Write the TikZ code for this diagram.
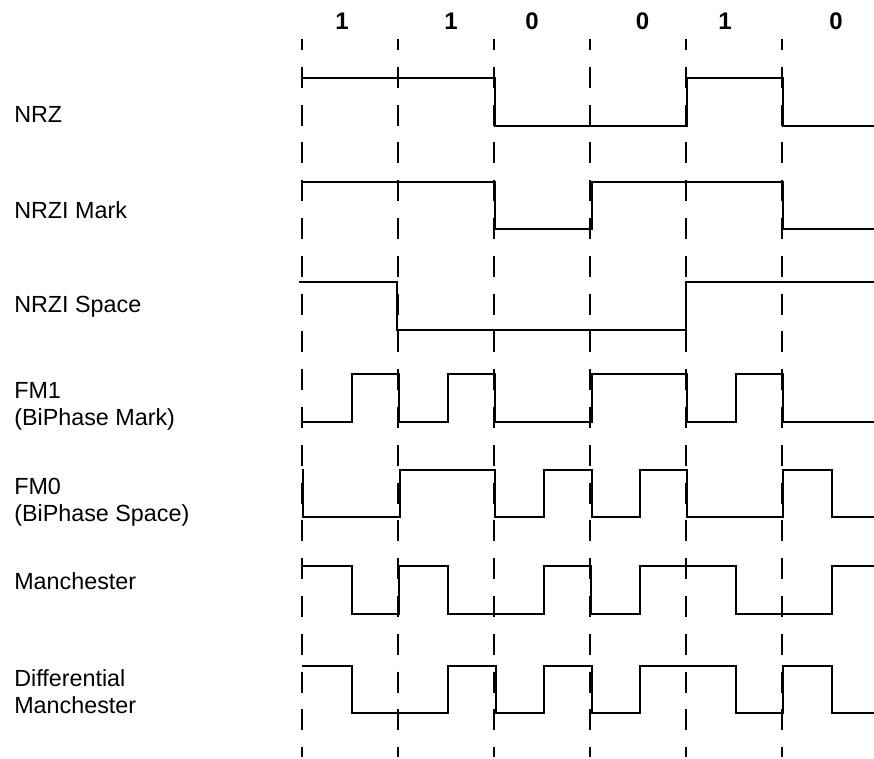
\documentclass[tikz,border=0pt]{standalone}
\usepackage{fontspec}
\setmainfont{Liberation Sans}
\begin{document}
\begin{tikzpicture}[x=0.75pt,y=-0.75pt,
  wave/.style={line width=1.5pt,line join=miter,line cap=rect},
  grid/.style={line width=1.5pt,dash pattern=on 15.75pt off 12.6pt,dash phase=7.5pt},
  bit/.style={font=\fontsize{18pt}{21pt}\selectfont\bfseries,anchor=base,inner sep=0pt},
  lab/.style={font=\fontsize{17.5pt}{20.6pt}\selectfont,anchor=base west,inner sep=0pt}]
\useasboundingbox (0,0) rectangle (874,758);
% dashed bit boundaries
\foreach \x in {301.5,397.5,493.5,589.5,685.5,781.5}
  \draw[grid] (\x,39) -- (\x,757);
% bit values
\node[bit] (b1) at (342,29) {1};
\node[bit] (b2) at (451,29) {1};
\node[bit] (b3) at (532,29) {0};
\node[bit] (b4) at (642.5,29) {0};
\node[bit] (b5) at (725,29) {1};
\node[bit] (b6) at (836,29) {0};
% labels
\node[lab] (lnrz) at (14,122) {NRZ};
\node[lab] (lmark) at (14,218.3) {NRZI Mark};
\node[lab] (lspace) at (14,312.7) {NRZI Space};
\node[lab] (lfm1) at (14,398.3) {\begin{tabular}[t]{@{}l@{}}FM1\\(BiPhase Mark)\end{tabular}};
\node[lab] (lfm0) at (14,494) {\begin{tabular}[t]{@{}l@{}}FM0\\(BiPhase Space)\end{tabular}};
\node[lab] (lman) at (14,589.3) {Manchester};
\node[lab] (ldman) at (14,686) {\begin{tabular}[t]{@{}l@{}}Differential\\Manchester\end{tabular}};
% NRZ
\draw[wave] (301.5,77.7) -- (495,77.7) -- (495,125.7) -- (687,125.7) -- (687,77.7)
  -- (783,77.7) -- (783,125.7) -- (873,125.7);
% NRZI Mark
\draw[wave] (301.5,181.7) -- (495,181.7) -- (495,229.3) -- (591.5,229.3) -- (591.5,181.7)
  -- (783,181.7) -- (783,229.3) -- (873,229.3);
% NRZI Space
\draw[wave] (300,282) -- (397,282) -- (397,330) -- (685.5,330) -- (685.5,282) -- (873,282);
% FM1
\draw[wave] (301.5,421.7) -- (351.7,421.7) -- (351.7,374) -- (399,374) -- (399,421.7)
  -- (447.7,421.7) -- (447.7,374) -- (494.5,374) -- (494.5,421.7) -- (591.5,421.7)
  -- (591.5,374) -- (687,374) -- (687,421.7) -- (736,421.7) -- (736,374) -- (783,374)
  -- (783,421.7) -- (873,421.7);
% FM0
\draw[wave] (303,470) -- (303,517.3) -- (400,517.3) -- (400,470) -- (495,470) -- (495,517.3)
  -- (544,517.3) -- (544,470) -- (591.5,470) -- (591.5,517.3) -- (640,517.3) -- (640,470)
  -- (687,470) -- (687,517.3) -- (783,517.3) -- (783,470) -- (831.7,470) -- (831.7,517.3)
  -- (873,517.3);
% Manchester
\draw[wave] (301.5,566) -- (351.7,566) -- (351.7,614) -- (399.3,614) -- (399.3,566)
  -- (447.7,566) -- (447.7,614) -- (544,614) -- (544,566) -- (591,566) -- (591,614)
  -- (640,614) -- (640,566) -- (735.7,566) -- (735.7,614) -- (831.7,614) -- (831.7,566)
  -- (873,566);
% Differential Manchester
\draw[wave] (303.3,665.7) -- (351.7,665.7) -- (351.7,713.3) -- (447.7,713.3) -- (447.7,665.7)
  -- (496,665.7) -- (496,713.3) -- (544,713.3) -- (544,665.7) -- (591.5,665.7) -- (591.5,713.3)
  -- (640,713.3) -- (640,665.7) -- (735.7,665.7) -- (735.7,713.3) -- (783,713.3) -- (783,665.7)
  -- (831.7,665.7) -- (831.7,713.3) -- (873,713.3);
\end{tikzpicture}
\end{document}
